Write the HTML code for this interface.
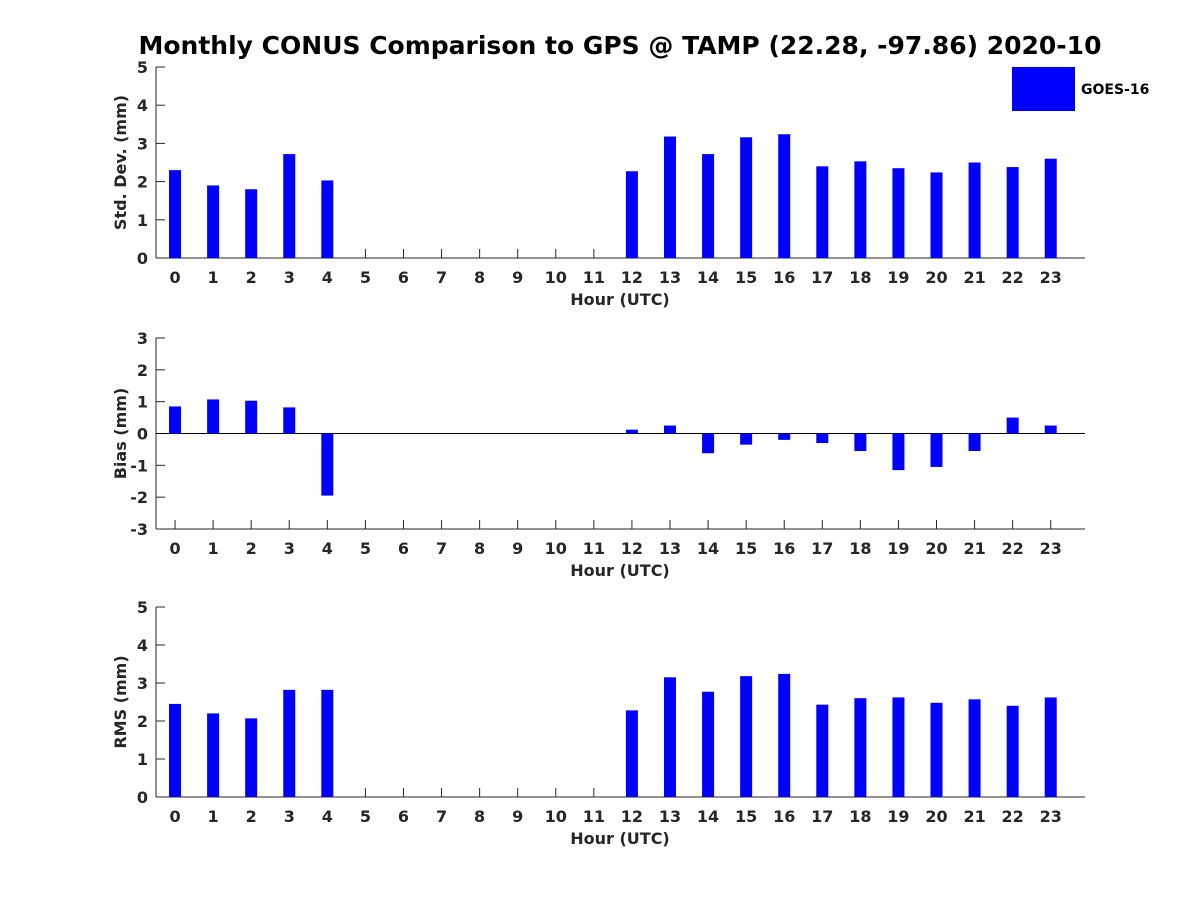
<!DOCTYPE html>
<html><head><meta charset="utf-8"><style>
body{margin:0;background:#fff}
svg{display:block;font-family:"DejaVu Sans","Liberation Sans",sans-serif;font-weight:bold}
</style></head><body>
<svg id="chart" width="1200" height="900">
<text x="620" y="54" text-anchor="middle" font-size="25" fill="#000">Monthly CONUS Comparison to GPS @ TAMP (22.28, -97.86) 2020-10</text>
<g>
<rect x="1012" y="67" width="63" height="44" fill="#0000ff"></rect>
<text x="1081" y="94" font-size="14" fill="#000">GOES-16</text>
</g>
</svg>
<script>
const hours=[0,1,2,3,4,5,6,7,8,9,10,11,12,13,14,15,16,17,18,19,20,21,22,23];
const stdValues=[2.3,1.9,1.8,2.72,2.03,null,null,null,null,null,null,null,2.27,3.18,2.72,3.16,3.24,2.4,2.53,2.35,2.24,2.5,2.38,2.6];
const biasValues=[0.85,1.07,1.03,0.82,-1.95,null,null,null,null,null,null,null,0.12,0.25,-0.62,-0.35,-0.2,-0.3,-0.55,-1.15,-1.05,-0.55,0.5,0.25];
const rmsValues=[2.45,2.2,2.07,2.82,2.82,null,null,null,null,null,null,null,2.28,3.15,2.77,3.18,3.24,2.43,2.6,2.62,2.48,2.57,2.4,2.62];
const stdTicks=[0,1,2,3,4,5];
const biasTicks=[-3,-2,-1,0,1,2,3];
const rmsTicks=[0,1,2,3,4,5];
const NS='http://www.w3.org/2000/svg';
const svg=document.getElementById('chart');
function mk(tag,attrs,parent){const e=document.createElementNS(NS,tag);for(const k in attrs)e.setAttribute(k,attrs[k]);(parent||svg).appendChild(e);return e;}
const x0=156,x1=1085,xmin=-0.5,xmax=23.9;
function xs(h){return x0+(h-xmin)/(xmax-xmin)*(x1-x0);}
function panel(name,top,bottom,ymin,ymax,ticks,vals,ylabel){
  const g=mk('g',{});
  
  
  const ys=v=>bottom-(v-ymin)/(ymax-ymin)*(bottom-top);
  const c='#262626';
  mk('line',{x1:x0,y1:top,x2:x0,y2:bottom,stroke:c,'stroke-width':1},g);
  mk('line',{x1:x0,y1:bottom,x2:x1,y2:bottom,stroke:c,'stroke-width':1},g);
  ticks.forEach(t=>{const y=ys(t);
    mk('line',{x1:x0,y1:y,x2:x0+9,y2:y,stroke:c},g);
    const tx=mk('text',{x:x0-8,y:y+6,'text-anchor':'end','font-size':16,fill:c},g);tx.textContent=t;
    
    
  });
  hours.forEach(h=>{const x=xs(h);
    mk('line',{x1:x,y1:bottom,x2:x,y2:bottom-9,stroke:c},g);
    const tx=mk('text',{x:x,y:bottom+25,'text-anchor':'middle','font-size':16,fill:c},g);tx.textContent=h;
    
    
  });
  const z=ys(Math.max(0,ymin));
  if(ymin<0){mk('line',{x1:x0,y1:z,x2:x1,y2:z,stroke:'#000'},g);}
  vals.forEach((v,i)=>{if(v===null)return;const y=ys(v);
    const r=mk('rect',{x:xs(hours[i])-6,y:Math.min(y,z),width:12,height:Math.abs(z-y),fill:'#0000ff'},g);
    
    
  });
  const xl=mk('text',{x:620,y:bottom+47,'text-anchor':'middle','font-size':16,fill:c},g);xl.textContent='Hour (UTC)';
  
  
  const cy=(top+bottom)/2;
  const yl=mk('text',{x:126,y:cy,'text-anchor':'middle','font-size':16,fill:c,transform:`rotate(-90 126 ${cy})`},g);yl.textContent=ylabel;
  
  
}
panel('std',67,258,0,5,stdTicks,stdValues,'Std. Dev. (mm)');
panel('bias',338,529,-3,3,biasTicks,biasValues,'Bias (mm)');
panel('rms',607,797,0,5,rmsTicks,rmsValues,'RMS (mm)');
</script>
</body></html>
